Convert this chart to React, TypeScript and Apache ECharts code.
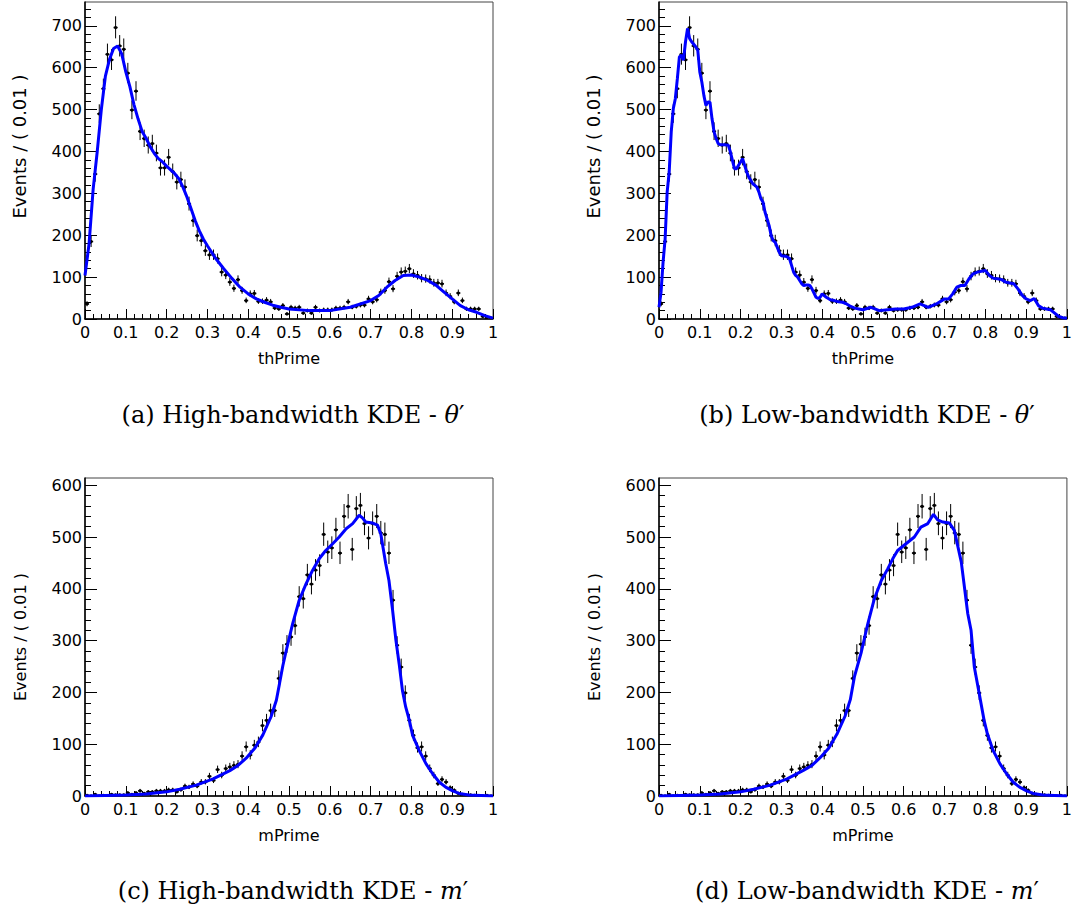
import React, { useEffect, useRef } from "react";
import * as echarts from "echarts";

// ---------- data ----------
const binCenters = [
  0.005, 0.015, 0.025, 0.035, 0.045, 0.055, 0.065, 0.075, 0.085, 0.095,
  0.105, 0.115, 0.125, 0.135, 0.145, 0.155, 0.165, 0.175, 0.185, 0.195,
  0.205, 0.215, 0.225, 0.235, 0.245, 0.255, 0.265, 0.275, 0.285, 0.295,
  0.305, 0.315, 0.325, 0.335, 0.345, 0.355, 0.365, 0.375, 0.385, 0.395,
  0.405, 0.415, 0.425, 0.435, 0.445, 0.455, 0.465, 0.475, 0.485, 0.495,
  0.505, 0.515, 0.525, 0.535, 0.545, 0.555, 0.565, 0.575, 0.585, 0.595,
  0.605, 0.615, 0.625, 0.635, 0.645, 0.655, 0.665, 0.675, 0.685, 0.695,
  0.705, 0.715, 0.725, 0.735, 0.745, 0.755, 0.765, 0.775, 0.785, 0.795,
  0.805, 0.815, 0.825, 0.835, 0.845, 0.855, 0.865, 0.875, 0.885, 0.895,
  0.905, 0.915, 0.925, 0.935, 0.945, 0.955, 0.965, 0.975, 0.985, 0.995,
];

const thPrimeCounts = [
  36, 185, 346, 490, 550, 632, 619, 696, 652, 644,
  587, 499, 544, 448, 431, 415, 419, 396, 361, 361,
  386, 352, 327, 333, 315, 275, 235, 199, 187, 163,
  153, 153, 144, 112, 105, 88, 73, 94, 68, 44,
  60, 61, 42, 42, 45, 41, 26, 24, 32, 12,
  28, 26, 28, 14, 20, 14, 28, 20, 22, 22,
  22, 26, 26, 28, 41, 28, 30, 33, 33, 48,
  41, 46, 64, 68, 89, 72, 102, 112, 114, 120,
  108, 104, 97, 96, 94, 86, 86, 84, 62, 54,
  41, 62, 44, 24, 24, 24, 24, 6, 4, 2,
];

const mPrimeCounts = [
  1, 0, 3, 0, 1, 0, 3, 2, 2, 2,
  6, 3, 6, 10, 5, 8, 8, 10, 10, 10,
  12, 12, 8, 12, 19, 17, 23, 19, 27, 27,
  38, 30, 51, 40, 53, 56, 59, 61, 77, 95,
  79, 98, 104, 136, 146, 165, 165, 227, 276, 293,
  307, 329, 385, 381, 427, 409, 436, 445, 505, 471,
  479, 514, 469, 540, 559, 476, 555, 561, 526, 498,
  526, 540, 508, 505, 469, 378, 291, 249, 199, 146,
  117, 93, 95, 77, 53, 40, 24, 32, 27, 16,
  11, 5, 3, 1, 2, 1, 0, 0, 1, 0,
];

const thHighCurve = [
  [0, 104], [0.01, 180], [0.02, 310], [0.03, 400], [0.04, 500], [0.05, 580],
  [0.06, 620], [0.07, 646], [0.08, 652], [0.09, 633], [0.1, 590], [0.11, 555],
  [0.12, 512], [0.13, 478], [0.14, 448], [0.15, 431], [0.16, 411], [0.17, 395],
  [0.18, 383], [0.19, 375], [0.2, 365], [0.21, 356], [0.22, 347], [0.23, 335],
  [0.24, 315], [0.25, 291], [0.26, 263], [0.27, 235], [0.28, 211], [0.29, 191],
  [0.3, 175], [0.32, 145], [0.34, 120], [0.36, 97], [0.38, 76], [0.4, 60],
  [0.42, 48], [0.44, 40], [0.46, 33], [0.48, 28], [0.5, 24], [0.55, 20],
  [0.6, 20], [0.65, 28], [0.7, 44], [0.72, 56], [0.74, 76], [0.76, 92],
  [0.78, 104], [0.8, 105], [0.82, 100], [0.84, 92], [0.86, 81], [0.88, 64],
  [0.9, 48], [0.92, 32], [0.94, 22], [0.96, 16], [0.98, 8], [1, 2],
];

const thLowCurve = [
  [0, 28], [0.005, 64], [0.01, 136], [0.015, 191], [0.02, 303], [0.025, 351],
  [0.03, 447], [0.035, 502], [0.04, 526], [0.045, 574], [0.05, 626], [0.055, 630],
  [0.06, 618], [0.065, 662], [0.07, 694], [0.075, 670], [0.08, 662], [0.09, 650],
  [0.095, 642], [0.1, 590], [0.105, 566], [0.11, 534], [0.115, 510], [0.12, 518],
  [0.125, 518], [0.13, 478], [0.135, 447], [0.14, 431], [0.145, 419], [0.15, 416],
  [0.16, 416], [0.17, 415], [0.175, 399], [0.18, 379], [0.185, 359], [0.19, 359],
  [0.195, 367], [0.2, 375], [0.205, 383], [0.21, 367], [0.215, 351], [0.22, 339],
  [0.23, 323], [0.235, 319], [0.24, 315], [0.245, 303], [0.25, 287], [0.255, 279],
  [0.26, 255], [0.265, 239], [0.27, 223], [0.275, 199], [0.28, 187], [0.285, 183],
  [0.29, 171], [0.295, 159], [0.3, 151], [0.31, 150], [0.315, 148], [0.32, 144],
  [0.325, 128], [0.33, 112], [0.335, 104], [0.34, 100], [0.345, 92], [0.35, 84],
  [0.355, 80], [0.36, 81], [0.365, 81], [0.37, 80], [0.375, 72], [0.38, 62],
  [0.385, 52], [0.39, 49], [0.395, 52], [0.4, 60], [0.405, 56], [0.41, 52],
  [0.42, 46], [0.43, 44], [0.44, 41], [0.45, 40], [0.46, 36], [0.47, 30],
  [0.48, 26], [0.49, 24], [0.5, 22], [0.52, 28], [0.54, 20], [0.56, 22],
  [0.58, 24], [0.6, 24], [0.62, 28], [0.64, 36], [0.65, 32], [0.66, 28],
  [0.68, 36], [0.7, 48], [0.71, 48], [0.72, 60], [0.73, 76], [0.74, 80],
  [0.75, 80], [0.76, 96], [0.77, 108], [0.78, 112], [0.79, 114], [0.8, 116],
  [0.81, 104], [0.82, 97], [0.83, 96], [0.84, 94], [0.85, 88], [0.86, 86],
  [0.87, 84], [0.88, 72], [0.89, 57], [0.9, 48], [0.91, 44], [0.92, 49],
  [0.93, 32], [0.94, 26], [0.95, 24], [0.96, 22], [0.97, 14], [0.98, 6],
  [0.99, 3], [1, 2],
];

const mHighCurve = [
  [0, 0], [0.05, 1], [0.1, 2], [0.15, 4], [0.2, 8], [0.232, 13], [0.273, 21],
  [0.314, 33], [0.355, 49], [0.375, 59], [0.395, 73], [0.416, 92], [0.436, 118],
  [0.456, 153], [0.469, 185], [0.477, 218], [0.485, 252], [0.493, 280],
  [0.509, 333], [0.525, 378], [0.542, 410], [0.558, 436], [0.574, 458],
  [0.59, 474], [0.607, 487], [0.623, 500], [0.64, 516], [0.656, 526],
  [0.672, 542], [0.68, 537], [0.688, 529], [0.705, 527], [0.717, 523],
  [0.725, 506], [0.737, 449], [0.745, 416], [0.754, 358], [0.762, 301],
  [0.77, 255], [0.778, 204], [0.786, 172], [0.795, 146], [0.803, 117],
  [0.819, 88], [0.836, 62], [0.852, 43], [0.868, 27], [0.884, 17], [0.901, 10],
  [0.917, 5], [0.941, 2], [1, 0],
];

const mLowCurve = [
  [0, 0], [0.05, 1], [0.1, 2], [0.15, 4], [0.2, 8], [0.232, 13], [0.273, 21],
  [0.314, 33], [0.355, 50], [0.375, 59], [0.395, 74], [0.416, 92], [0.436, 119],
  [0.456, 154], [0.469, 186], [0.479, 230], [0.496, 278], [0.512, 333],
  [0.528, 381], [0.545, 416], [0.561, 439], [0.573, 458], [0.585, 474],
  [0.61, 490], [0.626, 500], [0.642, 519], [0.659, 526], [0.673, 544],
  [0.683, 533], [0.696, 529], [0.712, 527], [0.724, 513], [0.741, 452],
  [0.757, 352], [0.765, 320], [0.773, 249], [0.785, 198], [0.797, 146],
  [0.805, 120], [0.819, 88], [0.836, 62], [0.852, 43], [0.868, 27], [0.884, 17],
  [0.901, 10], [0.917, 5], [0.941, 2], [1, 0],
];

const thYTicks = [0, 100, 200, 300, 400, 500, 600, 700];
const thYMinor = [20, 40, 60, 80, 120, 140, 160, 180, 220, 240, 260, 280, 320, 340, 360, 380, 420, 440, 460, 480, 520, 540, 560, 580, 620, 640, 660, 680, 720, 740];
const mYTicks = [0, 100, 200, 300, 400, 500, 600];
const mYMinor = [20, 40, 60, 80, 120, 140, 160, 180, 220, 240, 260, 280, 320, 340, 360, 380, 420, 440, 460, 480, 520, 540, 560, 580];

const yTitle = "Events / ( 0.01 )";

// ---------- layout ----------
const panels = [
  { grid: { left: 85, top: 2, width: 408, height: 317 }, counts: thPrimeCounts, curve: thHighCurve, xName: "thPrime", yMax: 757, yTicks: thYTicks, yMinor: thYMinor, yTitleSize: 18, yTitlePad: [0, 0, 0, 28], cap: "(a) High-bandwidth KDE - ", sym: "θ", cx: 293, cy: 415 },
  { grid: { left: 659, top: 2, width: 409, height: 317 }, counts: thPrimeCounts, curve: thLowCurve, xName: "thPrime", yMax: 757, yTicks: thYTicks, yMinor: thYMinor, yTitleSize: 18, yTitlePad: [0, 0, 0, 28], cap: "(b) Low-bandwidth KDE - ", sym: "θ", cx: 867, cy: 415 },
  { grid: { left: 85, top: 478, width: 408, height: 318 }, counts: mPrimeCounts, curve: mHighCurve, xName: "mPrime", yMax: 614, yTicks: mYTicks, yMinor: mYMinor, yTitleSize: 16, yTitlePad: [0, 0, 0, 0], cap: "(c) High-bandwidth KDE - ", sym: "m", cx: 293, cy: 891 },
  { grid: { left: 659, top: 478, width: 409, height: 318 }, counts: mPrimeCounts, curve: mLowCurve, xName: "mPrime", yMax: 614, yTicks: mYTicks, yMinor: mYMinor, yTitleSize: 16, yTitlePad: [0, 0, 0, 0], cap: "(d) Low-bandwidth KDE - ", sym: "m", cx: 867, cy: 891 },
];

const SANS = "DejaVu Sans";

function buildOption() {
  const grid: any[] = [];
  const xAxis: any[] = [];
  const yAxis: any[] = [];
  const series: any[] = [];
  const graphic: any[] = [];

  panels.forEach((p, k) => {
    grid.push({ ...p.grid, show: true, borderColor: "#444", borderWidth: 1, backgroundColor: "#fff" });
    xAxis.push({
      type: "value",
      gridIndex: k,
      min: 0,
      max: 1,
      interval: 0.1,
      name: p.xName,
      nameLocation: "middle",
      nameGap: 31,
      nameTextStyle: { fontFamily: SANS, fontSize: 16, color: "#000" },
      axisLine: { show: true, onZero: false, lineStyle: { color: "#000", width: 1.5 } },
      axisTick: { show: true, inside: true, length: 10, lineStyle: { color: "#000", width: 1 } },
      minorTick: { show: true, splitNumber: 5, length: 5, lineStyle: { color: "#000", width: 1 } },
      splitLine: { show: false },
      axisLabel: {
        fontFamily: SANS,
        fontSize: 16,
        color: "#000",
        margin: 5,
        showMinLabel: true,
        showMaxLabel: true,
        formatter: (v: number) => String(+v.toFixed(1)),
      },
    });
    yAxis.push({
      type: "value",
      gridIndex: k,
      min: 0,
      max: p.yMax,
      position: "left",
      name: yTitle,
      nameLocation: "middle",
      nameRotate: 90,
      nameGap: 57,
      nameTextStyle: { fontFamily: SANS, fontSize: p.yTitleSize, color: "#000", padding: p.yTitlePad },
      axisLine: { show: true, onZero: false, lineStyle: { color: "#000", width: 1.5 } },
      axisTick: { show: true, inside: true, length: 12, customValues: p.yTicks, lineStyle: { color: "#000", width: 1 } },
      splitLine: { show: false },
      axisLabel: { fontFamily: SANS, fontSize: 16, color: "#000", margin: 3, customValues: p.yTicks },
    });
    yAxis.push({
      type: "value",
      gridIndex: k,
      min: 0,
      max: p.yMax,
      position: "left",
      offset: 0,
      axisLine: { show: false },
      axisTick: { show: true, inside: true, length: 6, customValues: p.yMinor, lineStyle: { color: "#000", width: 1 } },
      axisLabel: { show: false },
      splitLine: { show: false },
    });

    series.push({
      type: "custom",
      xAxisIndex: k,
      yAxisIndex: 2 * k,
      z: 2,
      clip: true,
      data: p.counts.map((c, i) => [binCenters[i], c]),
      renderItem: (_params: any, api: any) => {
        const x = api.value(0);
        const y = api.value(1);
        const s = Math.sqrt(y + 0.25);
        const lo = Math.max(0, y - (s - 0.5));
        const hi = y + s + 0.5;
        const pc = api.coord([x, y]);
        const pl = api.coord([x - 0.005, y]);
        const pr = api.coord([x + 0.005, y]);
        const plo = api.coord([x, lo]);
        const phi = api.coord([x, hi]);
        return {
          type: "group",
          children: [
            { type: "line", shape: { x1: pc[0], y1: plo[1], x2: pc[0], y2: phi[1] }, style: { stroke: "#000", lineWidth: 1 } },
            { type: "line", shape: { x1: pl[0], y1: pc[1], x2: pr[0], y2: pc[1] }, style: { stroke: "#000", lineWidth: 1.5 } },
            { type: "circle", shape: { cx: pc[0], cy: pc[1], r: 1.6 }, style: { fill: "#000" } },
          ],
        };
      },
    });
    series.push({
      type: "line",
      xAxisIndex: k,
      yAxisIndex: 2 * k,
      z: 3,
      data: p.curve,
      showSymbol: false,
      symbol: "none",
      smooth: false,
      lineStyle: { color: "#0000ff", width: 3 },
    });

    graphic.push({
      type: "text",
      x: p.cx,
      y: p.cy,
      style: {
        text: p.cap + "{v|" + p.sym + "}′",
        rich: { v: { fontFamily: "DejaVu Serif", fontSize: 24, fontStyle: "italic", fill: "#000" } },
        fontFamily: "DejaVu Serif",
        fontSize: 24,
        fill: "#000",
        align: "center",
        verticalAlign: "middle",
        textAlign: "center",
        textVerticalAlign: "middle",
      },
    });
  });

  return {
    animation: false,
    backgroundColor: "#fff",
    grid,
    xAxis,
    yAxis,
    series,
    graphic,
  };
}

export default function App() {
  const ref = useRef<HTMLDivElement>(null);
  useEffect(() => {
    if (!ref.current) return;
    const chart = echarts.init(ref.current, undefined, { renderer: "svg" });
    chart.setOption(buildOption() as any);
    return () => chart.dispose();
  }, []);
  return (
    <div
      ref={ref}
      style={{ position: "fixed", left: 0, top: 0, width: 1075, height: 911, background: "#fff" }}
    />
  );
}
